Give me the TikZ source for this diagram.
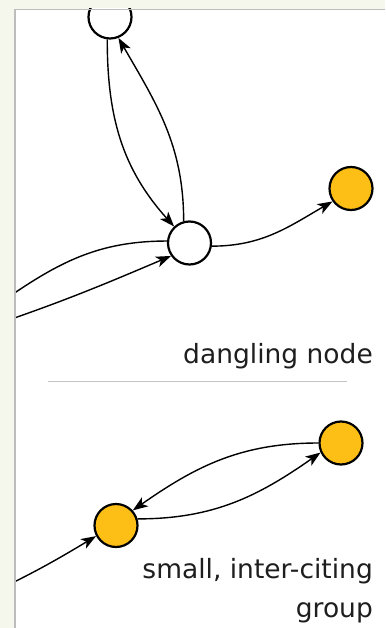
\documentclass[tikz,border=0pt]{standalone}
\usepackage{fontspec}
\setmainfont{DejaVu Sans}
\usetikzlibrary{arrows.meta}
\definecolor{bgcream}{HTML}{F6F7EC}
\definecolor{gold}{HTML}{FDBF16}
\definecolor{panelline}{HTML}{BDBDBD}
\definecolor{sepgray}{HTML}{C4C4C4}
\definecolor{textgray}{HTML}{1E1E1E}
\begin{document}
\begin{tikzpicture}[x=1pt,y=-1pt,
  vertex/.style={circle,draw=black,line width=2.2pt,minimum size=43pt,inner sep=0pt},
  plain/.style={vertex,fill=white},
  hub/.style={vertex,fill=gold},
  cite/.style={line width=1.4pt,-{Stealth[length=15pt,width=11pt,inset=4pt]}},
  link/.style={line width=1.4pt},
  caption/.style={font=\fontsize{26.5}{39}\selectfont,text=textgray,anchor=base east,inner sep=0pt}]
\fill[bgcream] (0,0) rectangle (385,628);
\useasboundingbox (0,0) rectangle (385,628);
\begin{scope}
\clip (14,9) rectangle (385,628);
\fill[white] (14,9) rectangle (385,628);
\coordinate (L1) at (0,303);
\coordinate (L2) at (0,323);
\coordinate (L3) at (0,589);
\node[plain] (A) at (110,17) {};
\node[plain] (B) at (189.5,243) {};
\node[hub] (C) at (351,188.5) {};
\node[hub] (D) at (341,443) {};
\node[hub] (E) at (116,525.5) {};
\draw[cite] (A.-97) to[out=-90,in=132] (B.133);
\draw[cite] (B.105) to[out=90,in=-60] (A.-68);
\draw[cite] (B.-8) to[out=0,in=-150] (C.-145);
\draw[link] (B.175) to[out=180,in=35] (L1);
\draw[cite] (L2) to[out=19,in=-157] (B.-145);
\draw[cite] (D.180) to[out=180,in=35] (E.42);
\draw[cite] (E.17) to[out=0,in=-145] (D.-155);
\draw[cite] (L3) to[out=26,in=-149] (E.-152);
\end{scope}
\draw[panelline,line width=1.5pt] (14.75,628) -- (14.75,9.75) -- (385,9.75);
\draw[sepgray,line width=1pt] (48,381) -- (347,381);
\node[caption] (t1) at (373,363) {dangling node};
\node[caption] (t2) at (373,578) {small, inter-citing};
\node[caption] (t3) at (373,617) {group};
\end{tikzpicture}
\end{document}
